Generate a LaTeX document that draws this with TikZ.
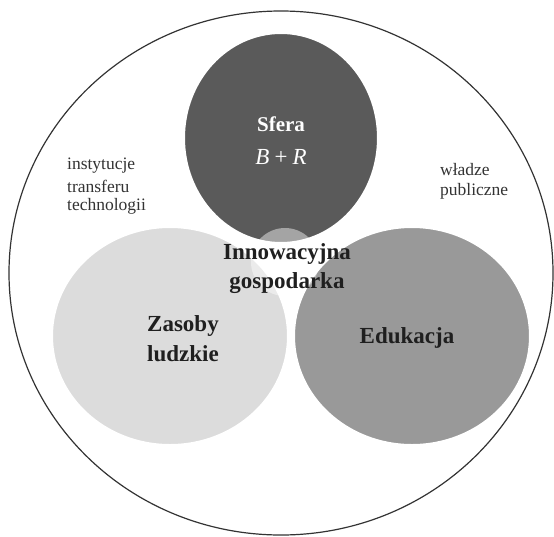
\documentclass[tikz,border=0pt]{standalone}
\usepackage{fontspec}
\setmainfont{Liberation Serif}
\begin{document}
\begin{tikzpicture}[x=1pt,y=-1pt]
\definecolor{dk}{HTML}{5A5A5A}
\definecolor{lt}{HTML}{DCDCDC}
\definecolor{md}{HTML}{999999}
\definecolor{ln}{HTML}{333333}
\tikzset{
  outerline/.style={draw=ln, line width=1.2pt},
  blob/.style={draw=white, line width=4pt},
  bigtxt/.style={font=\fontsize{23}{26}\selectfont\bfseries, text=black!88, inner sep=0pt},
  smalltxt/.style={font=\fontsize{17.5}{20}\selectfont, text=black!80, inner sep=0pt, anchor=west},
}
\useasboundingbox (0,0) rectangle (554,536);
\draw[outerline] (281,273) ellipse [x radius=272, y radius=262];
\path[blob, fill=dk] (281,138) ellipse [x radius=98, y radius=106];
\path[blob, fill=lt] (170,336) ellipse [x radius=119, y radius=110];
\path[blob, fill=md] (412,336) ellipse [x radius=119, y radius=110];
\fill[white, opacity=0.45] (285,262) circle [radius=34];
\node[bigtxt, text=white, font=\fontsize{21}{24}\selectfont\bfseries] (sf) at (281,124) {Sfera};
\node[bigtxt, text=white, font=\fontsize{23}{24}\selectfont\itshape] (br) at (281,157) {B\,+\,R};
\node[bigtxt] (in1) at (287,254) {Innowacyjna};
\node[bigtxt] (in2) at (287,283) {gospodarka};
\node[bigtxt] (za1) at (183,326) {Zasoby};
\node[bigtxt] (za2) at (183,354) {ludzkie};
\node[bigtxt] (ed) at (407,338) {Edukacja};
\node[smalltxt] (t1) at (67,166) {instytucje};
\node[smalltxt] (t2) at (67,186) {transferu};
\node[smalltxt] (t3) at (67,206) {technologii};
\node[smalltxt] (w1) at (440,170) {władze};
\node[smalltxt] (w2) at (440,191) {publiczne};
\end{tikzpicture}
\end{document}
